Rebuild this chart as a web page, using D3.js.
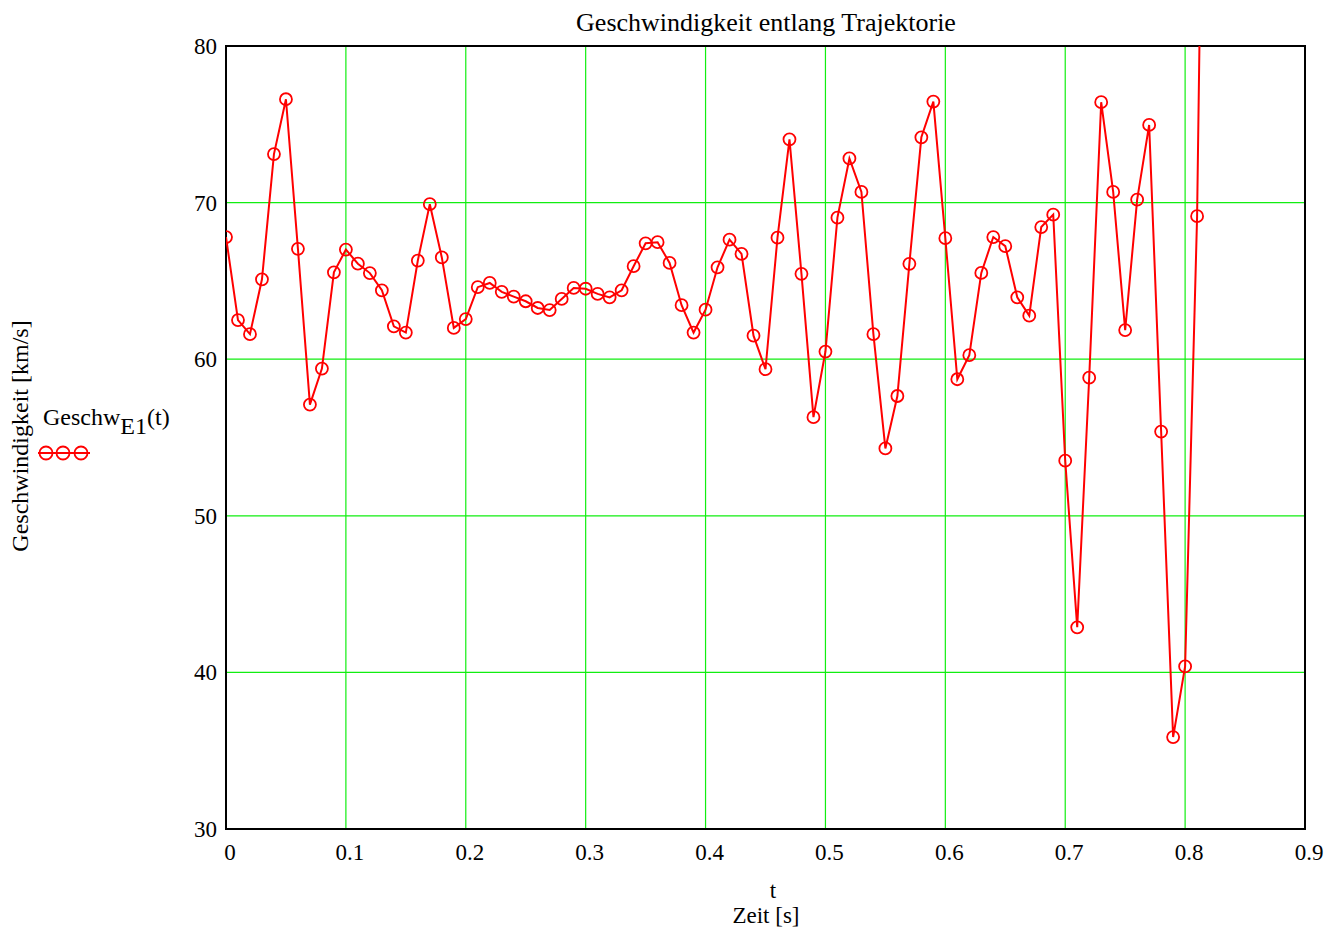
<!DOCTYPE html>
<html>
<head>
<meta charset="utf-8">
<script src="https://cdn.jsdelivr.net/npm/d3@7"></script>
<style>
  body { margin: 0; background: #fff; }
  text { font-family: "Liberation Serif", "Times New Roman", serif; fill: #000; }
</style>
</head>
<body>
<div id="chart"></div>
<script>
// speed along the trajectory, one sample every 0.01 s
var times = d3.range(83).map(function(i) { return +(i * 0.01).toFixed(2); });
var speed = [
  67.8, 62.5, 61.6, 65.1, 73.1, 76.6, 67.05, 57.1, 59.4, 65.55,
  67.0, 66.1, 65.5, 64.4, 62.1, 61.7, 66.3, 69.9, 66.5, 62.0,
  62.56, 64.6, 64.87, 64.3, 64.0, 63.7, 63.27, 63.14, 63.85, 64.55,
  64.5, 64.17, 63.95, 64.4, 65.94, 67.4, 67.47, 66.15, 63.45, 61.7,
  63.16, 65.87, 67.63, 66.73, 61.5, 59.36, 67.76, 74.04, 65.45, 56.3,
  60.49, 69.04, 72.82, 70.68, 61.6, 54.3, 57.65, 66.09, 74.17, 76.45,
  67.73, 58.72, 60.26, 65.51, 67.8, 67.22, 63.95, 62.78, 68.44, 69.23,
  53.52, 42.88, 58.82, 76.41, 70.68, 61.86, 70.19, 74.96, 55.38, 35.87,
  40.38, 69.13, 125
];
var xTicks = [0, 0.1, 0.2, 0.3, 0.4, 0.5, 0.6, 0.7, 0.8, 0.9];
var yTicks = [30, 40, 50, 60, 70, 80];

var W = 1343, H = 931;
var pLeft = 226, pRight = 1305, pTop = 46, pBottom = 829;

var data = times.map(function(t, i) { return { t: t, v: speed[i] }; });

var x = d3.scaleLinear().domain([0, 0.9]).range([pLeft, pRight]);
var y = d3.scaleLinear().domain([30, 80]).range([pBottom, pTop]);

var svg = d3.select("#chart").append("svg")
    .attr("width", W)
    .attr("height", H);

svg.append("defs").append("clipPath").attr("id", "plotclip")
  .append("rect")
    .attr("x", pLeft).attr("y", pTop)
    .attr("width", pRight - pLeft).attr("height", pBottom - pTop);

// grid
svg.append("g").selectAll("line")
  .data(xTicks.slice(1, -1))
  .enter().append("line")
    .attr("x1", function(d) { return x(d); })
    .attr("x2", function(d) { return x(d); })
    .attr("y1", pTop).attr("y2", pBottom)
    .attr("stroke", "#11ee11").attr("stroke-width", 1.2);

svg.append("g").selectAll("line")
  .data(yTicks.slice(1, -1))
  .enter().append("line")
    .attr("x1", pLeft).attr("x2", pRight)
    .attr("y1", function(d) { return y(d); })
    .attr("y2", function(d) { return y(d); })
    .attr("stroke", "#11ee11").attr("stroke-width", 1.2);

// frame
svg.append("rect")
    .attr("x", pLeft).attr("y", pTop)
    .attr("width", pRight - pLeft).attr("height", pBottom - pTop)
    .attr("fill", "none").attr("stroke", "#000").attr("stroke-width", 2);

// tick labels
svg.append("g").selectAll("text")
  .data(xTicks)
  .enter().append("text")
    .attr("x", function(d) { return x(d) + 4; })
    .attr("y", pBottom + 31)
    .attr("text-anchor", "middle")
    .style("font-size", "23px")
    .text(function(d) { return d; });

svg.append("g").selectAll("text")
  .data(yTicks)
  .enter().append("text")
    .attr("x", pLeft - 9)
    .attr("y", function(d) { return y(d) + 8; })
    .attr("text-anchor", "end")
    .style("font-size", "23px")
    .text(function(d) { return d; });

// series
var line = d3.line()
    .x(function(d) { return x(d.t); })
    .y(function(d) { return y(d.v); });

var plot = svg.append("g").attr("clip-path", "url(#plotclip)");

plot.append("path")
    .datum(data)
    .attr("d", line)
    .attr("fill", "none")
    .attr("stroke", "#ff0000")
    .attr("stroke-width", 2);

plot.selectAll("circle")
  .data(data.filter(function(d) { return d.v <= 80; }))
  .enter().append("circle")
    .attr("cx", function(d) { return x(d.t); })
    .attr("cy", function(d) { return y(d.v); })
    .attr("r", 6)
    .attr("fill", "none")
    .attr("stroke", "#ff0000")
    .attr("stroke-width", 1.8);

// title and axis labels
svg.append("text")
    .attr("x", 766).attr("y", 31)
    .attr("text-anchor", "middle")
    .style("font-size", "26px")
    .text("Geschwindigkeit entlang Trajektorie");

svg.append("text")
    .attr("x", 773).attr("y", 898)
    .attr("text-anchor", "middle")
    .style("font-size", "23px")
    .text("t");

svg.append("text")
    .attr("x", 766).attr("y", 923)
    .attr("text-anchor", "middle")
    .style("font-size", "23px")
    .text("Zeit [s]");

svg.append("text")
    .attr("transform", "translate(28,436) rotate(-90)")
    .attr("text-anchor", "middle")
    .style("font-size", "24px")
    .text("Geschwindigkeit [km/s]");

// legend
var leg = svg.append("text")
    .attr("x", 43).attr("y", 425)
    .style("font-size", "24px");
leg.append("tspan").text("Geschw");
leg.append("tspan").attr("dy", 9).text("E1");
leg.append("tspan").attr("dy", -9).text("(t)");

svg.append("line")
    .attr("x1", 38).attr("x2", 90)
    .attr("y1", 453).attr("y2", 453)
    .attr("stroke", "#ff0000").attr("stroke-width", 2);

svg.append("g").selectAll("circle")
  .data([46, 63, 81])
  .enter().append("circle")
    .attr("cx", function(d) { return d; })
    .attr("cy", 453)
    .attr("r", 6.5)
    .attr("fill", "none")
    .attr("stroke", "#ff0000")
    .attr("stroke-width", 1.8);
</script>
</body>
</html>
